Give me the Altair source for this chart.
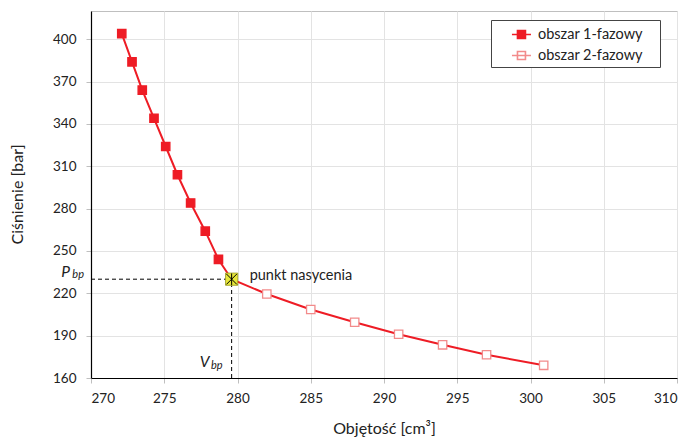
import altair as alt
import pandas as pd

# ---- data ----
v1 = [272.1, 272.8, 273.5, 274.3, 275.1, 275.9, 276.8, 277.8, 278.7]
p1 = [404, 384, 364, 344, 324, 304, 284, 264, 244]
v_bp = 279.6
p_bp = 230
v2 = [282.0, 285.0, 288.0, 291.0, 294.0, 297.0, 300.9]
p2 = [219.5, 208.5, 199.5, 191.0, 183.5, 176.5, 169.0]
series = ["obszar 1-fazowy", "obszar 2-fazowy"]
x_ticks = [270, 275, 280, 285, 290, 295, 300, 305, 310]
y_ticks = [160, 190, 220, 250, 280, 310, 340, 370, 400]

FONT = "Lato"
RED = "#ee1c25"
PINK = "#f28b8b"

line_df = pd.DataFrame({
    "v": v1 + [v_bp] + v2,
    "p": p1 + [p_bp] + p2,
    "o": list(range(len(v1) + 1 + len(v2))),
})
pts_df = pd.DataFrame({
    "v": v1 + v2,
    "p": p1 + p2,
    "s": [series[0]] * len(v1) + [series[1]] * len(v2),
})
bp_df = pd.DataFrame({"v": [v_bp], "p": [p_bp], "x0": [270], "y0": [160]})

xs = alt.Scale(domain=[270, 310], nice=False)
ys = alt.Scale(domain=[160, 420], nice=False)

xax = alt.Axis(values=x_ticks, title="Objętość [cm³]", grid=True, gridColor="#e3e3e3",
               domainColor="black", domainWidth=1.2, tickColor="#bfbfbf", tickSize=5,
               labelFont=FONT, labelFontSize=13.5, labelColor="#222", labelPadding=8,
               titleFont=FONT, titleFontSize=16, titleFontWeight="normal", titleColor="#222",
               titleBaseline="middle", titleY=50)
yax = alt.Axis(values=y_ticks, title="Ciśnienie [bar]", grid=True, gridColor="#e3e3e3",
               domainColor="black", domainWidth=1.2, tickColor="#bfbfbf", tickSize=5,
               labelFont=FONT, labelFontSize=13.5, labelColor="#222", labelPadding=10,
               titleFont=FONT, titleFontSize=16, titleFontWeight="normal", titleColor="#222",
               titleAngle=-90, titleBaseline="middle", titleAlign="center",
               titleX=-74, titleY=183)

base_x = alt.X("v:Q", scale=xs, axis=xax)
base_y = alt.Y("p:Q", scale=ys, axis=yax)

line = alt.Chart(line_df).mark_line(color=RED, strokeWidth=2).encode(
    x=base_x, y=base_y, order="o:Q")

# legend symbol: short line with a square in the middle (trailing move-to widens the box)
sym = "M0.68,0H2.68M1.26,-0.42H2.1V0.42H1.26ZM15.5,0"
leg = alt.Legend(title=None, orient="none", legendX=400, legendY=9,
                 strokeColor="#444", fillColor="white", padding=4,
                 symbolType=sym, symbolSize=361, symbolStrokeWidth=1.6,
                 labelFont=FONT, labelFontSize=14.5, labelColor="#222",
                 labelOffset=22, rowPadding=3)

pts = alt.Chart(pts_df).mark_point(shape="square", size=70, strokeWidth=1.3, opacity=1).encode(
    x="v:Q", y="p:Q",
    fill=alt.Fill("s:N", scale=alt.Scale(domain=series, range=[RED, "white"]), legend=leg),
    stroke=alt.Stroke("s:N", scale=alt.Scale(domain=series, range=[RED, PINK]), legend=leg),
)

hrule = alt.Chart(bp_df).mark_rule(color="black", strokeDash=[4, 3], strokeWidth=1).encode(
    x="x0:Q", x2="v:Q", y="p:Q")
vrule = alt.Chart(bp_df).mark_rule(color="black", strokeDash=[4, 3], strokeWidth=1).encode(
    x="v:Q", y="y0:Q", y2="p:Q")

bp_sq = alt.Chart(bp_df).mark_point(shape="square", size=150, filled=True, fill="#e6e63a",
                                    stroke="#9a9a20", strokeWidth=0.8, opacity=1).encode(
    x="v:Q", y="p:Q")
bp_x = alt.Chart(bp_df).mark_point(shape="M-1,-1L1,1M-1,1L1,-1M0,-1.1L0,1.1", size=110,
                                   stroke="black", strokeWidth=1, filled=False, opacity=1).encode(
    x="v:Q", y="p:Q")

lbl = alt.Chart(bp_df).mark_text(text="punkt nasycenia", align="left", baseline="middle",
                                 dx=18, dy=-3, font=FONT, fontSize=14.5, color="#222").encode(
    x="v:Q", y="p:Q")

p_main = alt.Chart(bp_df).mark_text(text="P", align="right", baseline="alphabetic",
                                    dx=-21, dy=-2, font=FONT, fontSize=15.5, fontStyle="italic",
                                    color="#222").encode(x="x0:Q", y="p:Q")
p_sub = alt.Chart(bp_df).mark_text(text="bp", align="right", baseline="alphabetic",
                                   dx=-7, dy=-1, font=FONT, fontSize=11, fontStyle="italic",
                                   color="#222").encode(x="x0:Q", y="p:Q")
v_main = alt.Chart(bp_df).mark_text(text="V", align="right", baseline="alphabetic",
                                    dx=-22, dy=-11, font=FONT, fontSize=15.5, fontStyle="italic",
                                    color="#222").encode(x="v:Q", y="y0:Q")
v_sub = alt.Chart(bp_df).mark_text(text="bp", align="right", baseline="alphabetic",
                                   dx=-9, dy=-9, font=FONT, fontSize=11, fontStyle="italic",
                                   color="#222").encode(x="v:Q", y="y0:Q")

chart = alt.layer(line, hrule, vrule, pts, bp_sq, bp_x, lbl, p_main, p_sub, v_main, v_sub).properties(
    width=586, height=367,
    autosize="none",
    padding={"left": 83, "top": 3, "right": 7, "bottom": 61},
).configure_view(stroke="#bfbfbf", strokeWidth=1)

chart.save("out.html", embed_options={"renderer": "svg", "actions": False})
